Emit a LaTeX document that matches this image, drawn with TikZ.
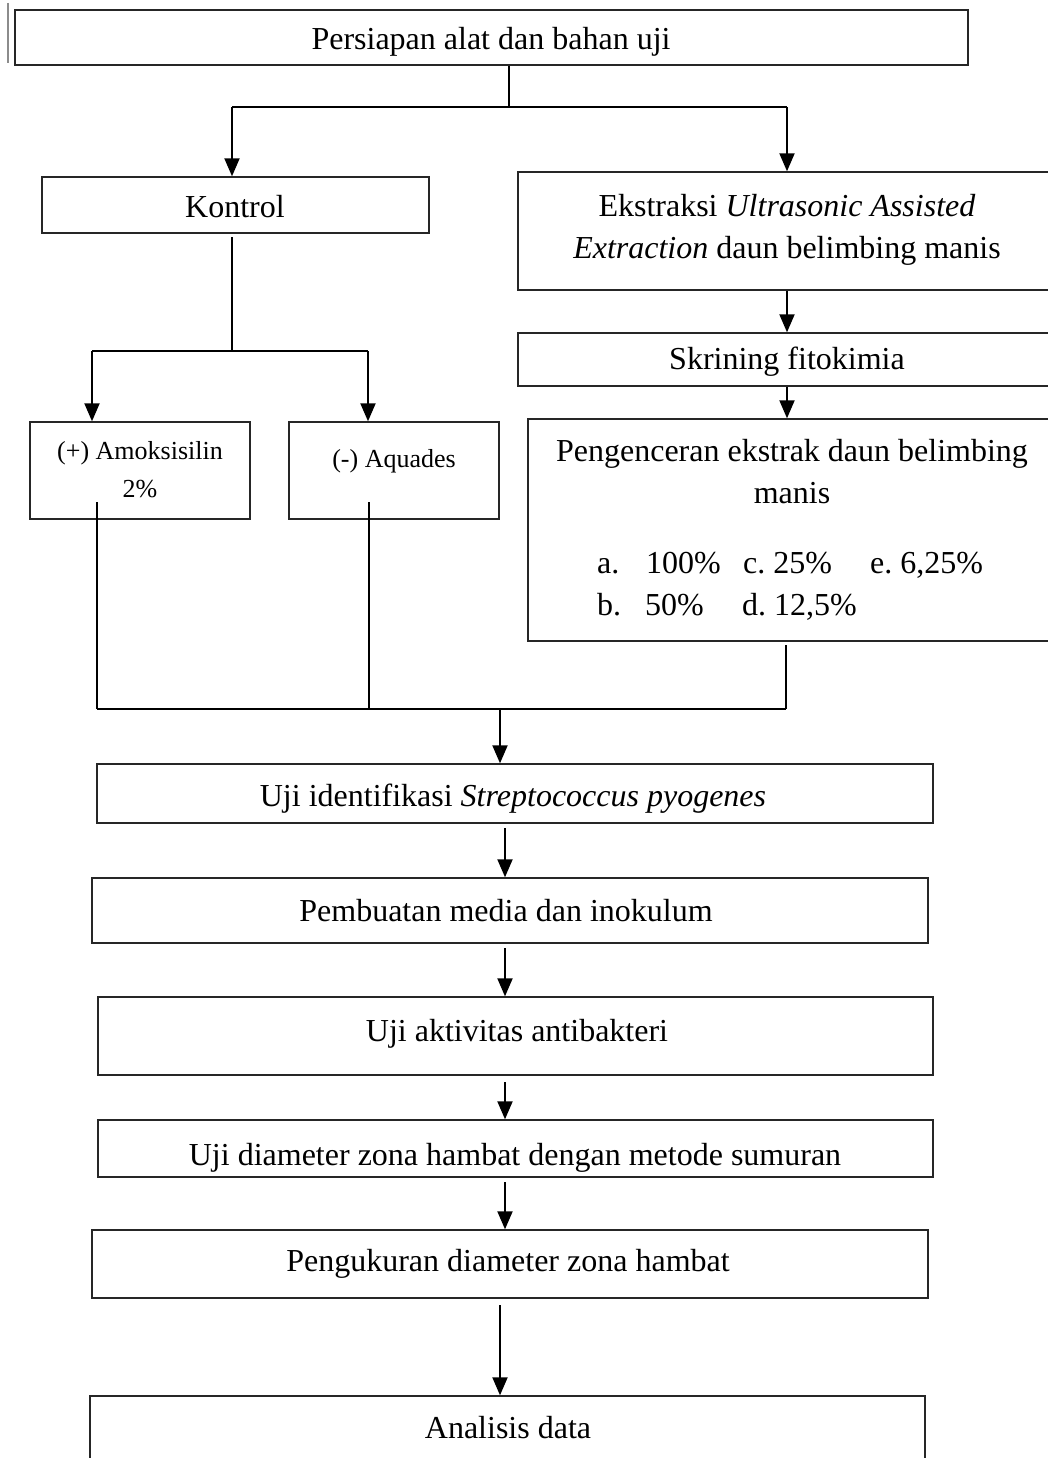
\documentclass[tikz,border=0pt]{standalone}
\usepackage{fontspec}
\setmainfont{Liberation Serif}
\usetikzlibrary{arrows.meta}
\begin{document}
\frenchspacing
\begin{tikzpicture}[x=1pt,y=-1pt,
  box/.style={draw=black!85,line width=1.4pt,inner sep=0pt,fill=none},
  txt/.style={inner sep=0pt,anchor=base,font=\fontsize{32}{42}\selectfont},
  ltxt/.style={inner sep=0pt,anchor=base west,font=\fontsize{32}{42}\selectfont},
  smalltxt/.style={inner sep=0pt,anchor=base,font=\fontsize{26}{38}\selectfont},
  conn/.style={line width=2pt,draw=black},
  arr/.style={conn,-{Triangle[length=18pt,width=15pt]}}]
\fill[white] (0,0) rectangle (1047,1458);
\useasboundingbox (0,0) rectangle (1047,1458);
% artifact line
\draw[black!45,line width=1.5pt] (8,3) -- (8,63);
% boxes
\node[box,minimum width=953pt,minimum height=55pt] (top) at (491.5,37.5) {};
\node[box,minimum width=387pt,minimum height=56pt] (kontrol) at (235.5,205) {};
\node[box,minimum width=542pt,minimum height=118pt] (ekstr) at (789,231) {};
\node[box,minimum width=542pt,minimum height=53pt] (skrin) at (789,359.5) {};
\node[box,minimum width=532pt,minimum height=222pt] (encer) at (794,530) {};
\node[box,minimum width=220pt,minimum height=97pt] (amok) at (140,470.5) {};
\node[box,minimum width=210pt,minimum height=97pt] (aqua) at (394,470.5) {};
\node[box,minimum width=836pt,minimum height=59pt] (ident) at (515,793.5) {};
\node[box,minimum width=836pt,minimum height=65pt] (media) at (510,910.5) {};
\node[box,minimum width=835pt,minimum height=78pt] (aktiv) at (515.5,1036) {};
\node[box,minimum width=835pt,minimum height=57pt] (diam) at (515.5,1148.5) {};
\node[box,minimum width=836pt,minimum height=68pt] (ukur) at (510,1264) {};
\node[box,minimum width=835pt,minimum height=104pt] (anal) at (507.5,1448) {};
% texts
\node[txt] (t-top) at (491,50) {Persiapan alat dan bahan uji};
\node[txt] (t-kon) at (235,218) {Kontrol};
\node[txt] (t-eks1) at (787,216) {Ekstraksi \textit{Ultrasonic Assisted}};
\node[txt] (t-eks2) at (787,258) {\textit{Extraction} daun belimbing manis};
\node[txt] (t-skr) at (787,369) {Skrining fitokimia};
\node[txt] (t-enc1) at (792,461) {Pengenceran ekstrak daun belimbing};
\node[txt] (t-enc2) at (792,503) {manis};
\node[ltxt] (l1) at (597,573) {a.};
\node[ltxt] (l2) at (646,573) {100\%};
\node[ltxt] (l3) at (743,573) {c. 25\%};
\node[ltxt] (l4) at (870,573) {e. 6,25\%};
\node[ltxt] (l5) at (597,615) {b.};
\node[ltxt] (l6) at (645,615) {50\%};
\node[ltxt] (l7) at (742,615) {d. 12,5\%};
\node[smalltxt] (t-amo1) at (140,459) {(+) Amoksisilin};
\node[smalltxt] (t-amo2) at (140,497) {2\%};
\node[smalltxt] (t-aqu) at (394,467) {(-) Aquades};
\node[txt] (t-ide) at (513,806) {Uji identifikasi \textit{Streptococcus pyogenes}};
\node[txt] (t-med) at (506,921) {Pembuatan media dan inokulum};
\node[txt] (t-akt) at (517,1041) {Uji aktivitas antibakteri};
\node[txt] (t-dia) at (515,1165) {Uji diameter zona hambat dengan metode sumuran};
\node[txt] (t-uku) at (508,1271) {Pengukuran diameter zona hambat};
\node[txt] (t-ana) at (508,1438) {Analisis data};
% connectors: top split
\coordinate (j0) at (509,107);
\coordinate (jL) at (232,107);
\coordinate (jR) at (787,107);
\draw[conn] (top.south -| j0) -- (j0);
\draw[conn] (jL) -- (jR);
\draw[arr] (jL) -- (jL |- kontrol.north);
\draw[arr] (jR) -- (jR |- ekstr.north);
% kontrol split
\coordinate (k0) at (232,237);
\coordinate (k1) at (232,351);
\coordinate (kL) at (92,351);
\coordinate (kR) at (368,351);
\draw[conn] (k0) -- (k1);
\draw[conn] (kL) -- (kR);
\draw[arr] (kL) -- (kL |- amok.north);
\draw[arr] (kR) -- (kR |- aqua.north);
% right column
\draw[arr] (ekstr.south -| jR) -- (skrin.north -| jR);
\draw[arr] (skrin.south -| jR) -- (encer.north -| jR);
% merge
\coordinate (a1) at (97,502);
\coordinate (a2) at (97,709);
\coordinate (q1) at (369,502);
\coordinate (q2) at (369,709);
\coordinate (e1) at (786,645);
\coordinate (e2) at (786,709);
\coordinate (m0) at (500,709);
\draw[conn] (a1) -- (a2);
\draw[conn] (q1) -- (q2);
\draw[conn] (e1) -- (e2);
\draw[conn] (a2) -- (e2);
\draw[arr] (m0) -- (m0 |- ident.north);
% main column
\coordinate (c1) at (505,828);
\draw[arr] (c1) -- (c1 |- media.north);
\coordinate (c2) at (505,948);
\draw[arr] (c2) -- (c2 |- aktiv.north);
\coordinate (c3) at (505,1082);
\draw[arr] (c3) -- (c3 |- diam.north);
\coordinate (c4) at (505,1182);
\draw[arr] (c4) -- (c4 |- ukur.north);
\coordinate (c5) at (500,1305);
\draw[arr] (c5) -- (c5 |- anal.north);
\end{tikzpicture}
\end{document}
